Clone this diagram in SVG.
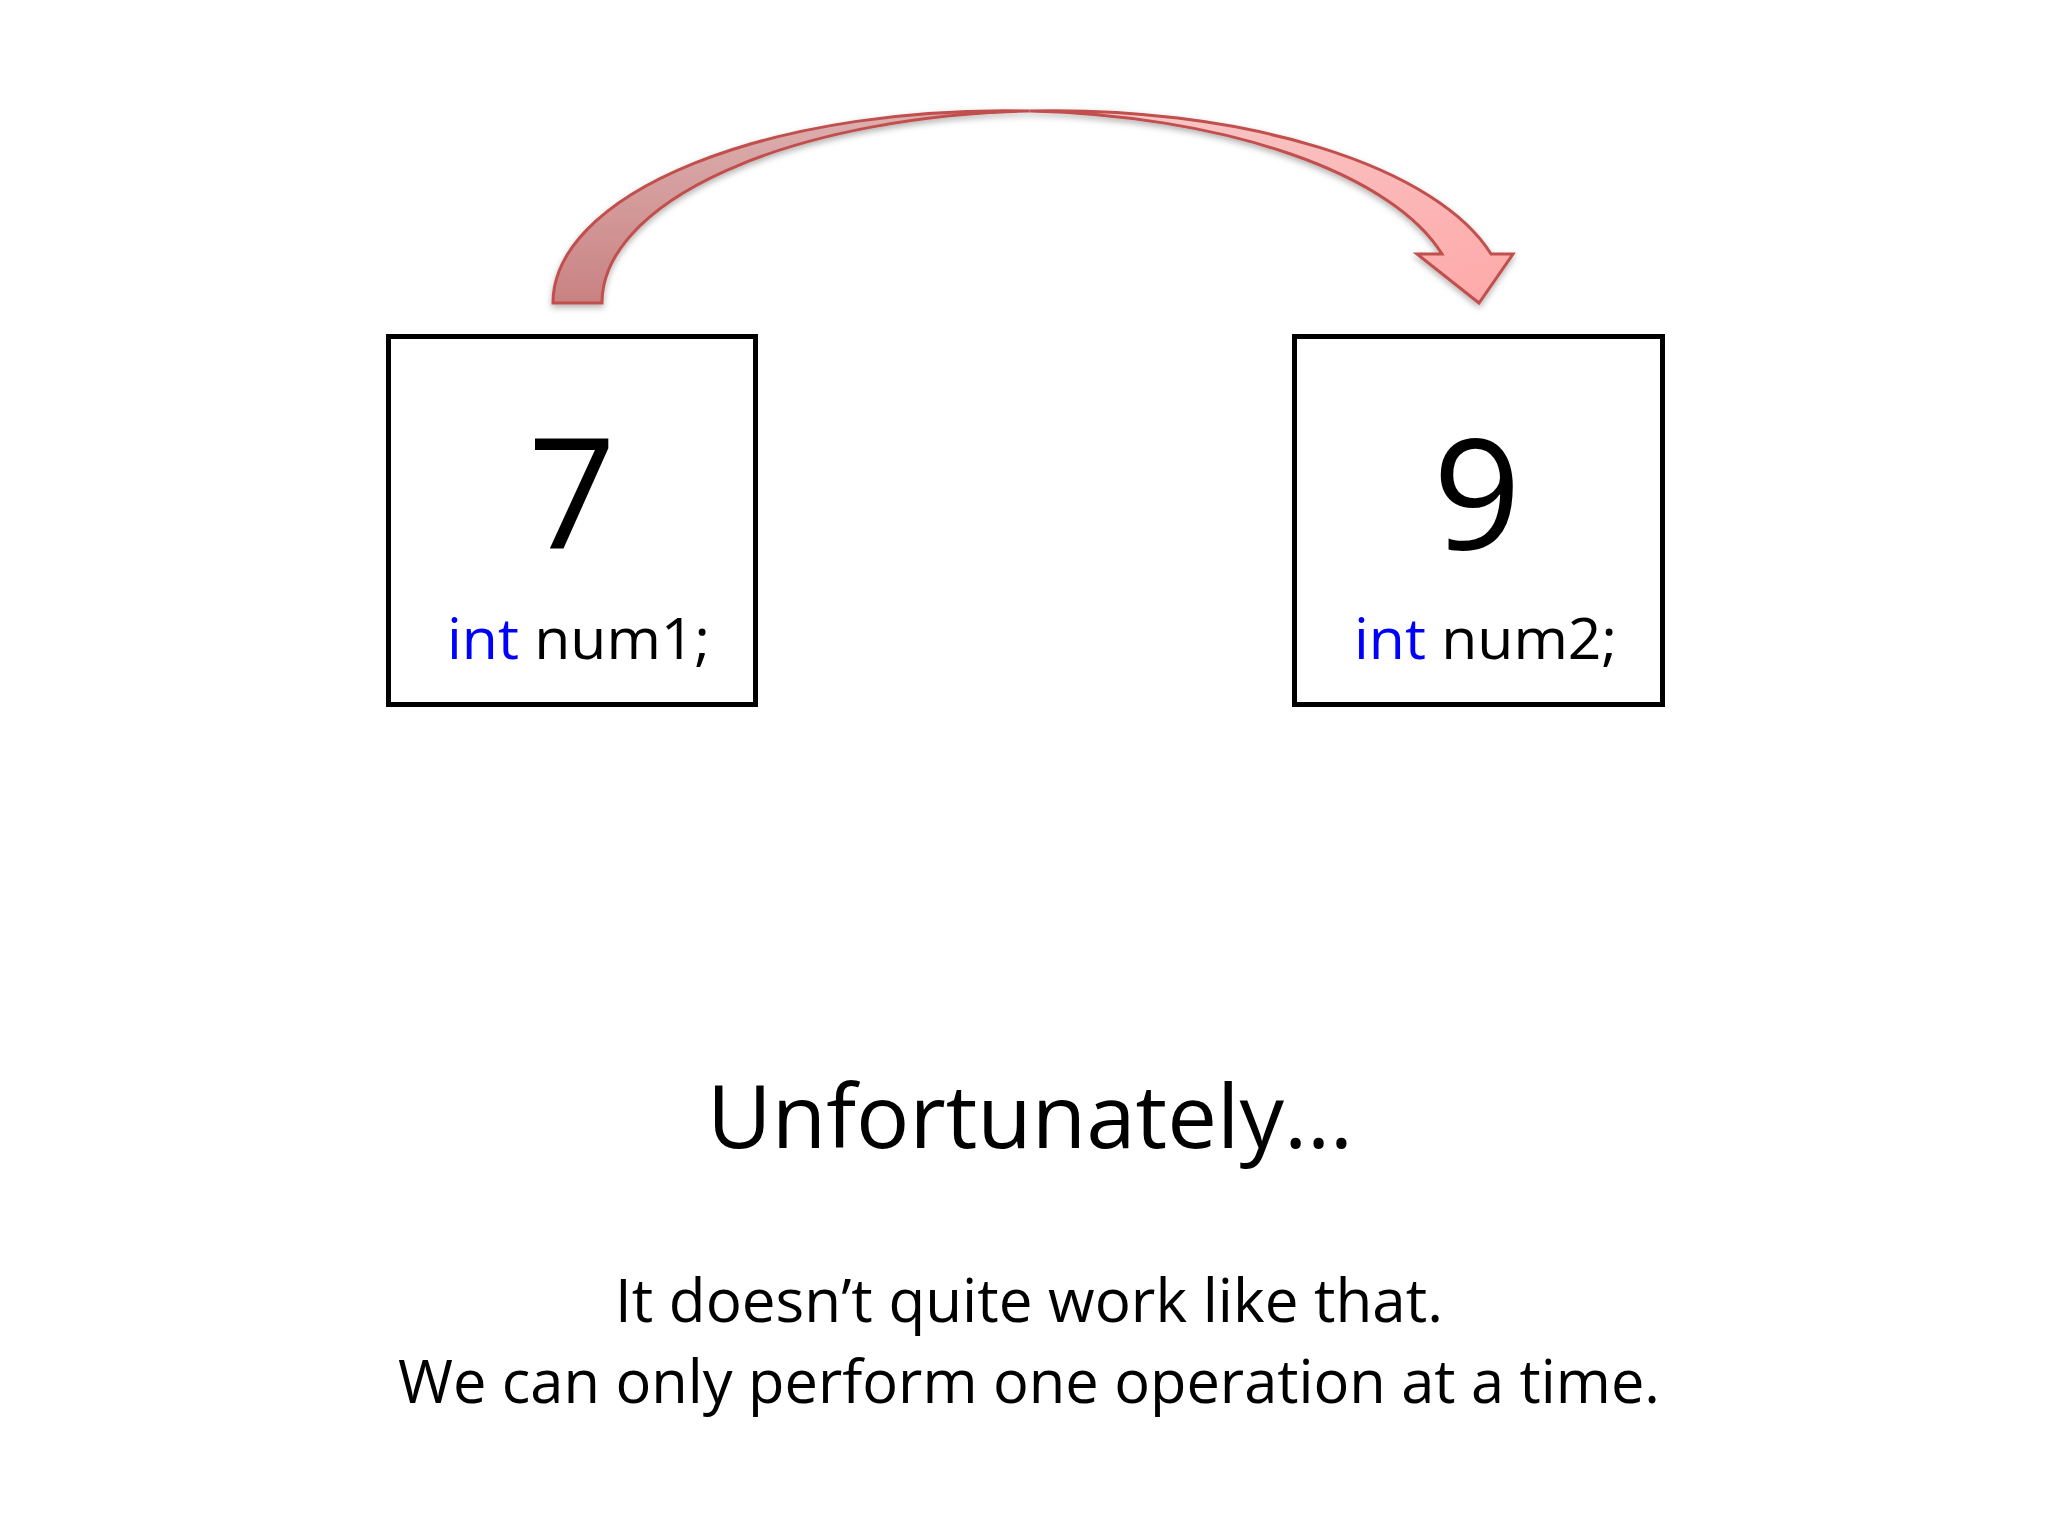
<svg xmlns="http://www.w3.org/2000/svg" width="2048" height="1536" viewBox="0 0 2048 1536">
  <defs>
    <linearGradient id="gLeft" x1="0" y1="0" x2="0" y2="1">
      <stop offset="0" stop-color="#DDB0B0"/>
      <stop offset="1" stop-color="#C98282"/>
    </linearGradient>
    <linearGradient id="gRight" x1="0" y1="0" x2="1" y2="1">
      <stop offset="0" stop-color="#F6CACA"/>
      <stop offset="1" stop-color="#FFA9A9"/>
    </linearGradient>
    <filter id="shadow" x="-10%" y="-10%" width="120%" height="130%">
      <feDropShadow dx="0" dy="3" stdDeviation="3" flood-color="#000" flood-opacity="0.3"/>
    </filter>
  </defs>
  <style>
    .box { fill: #FFFFFF; stroke: #000000; stroke-width: 5; }
    .big { font-family: "Open Sans", "Liberation Sans", sans-serif; font-size: 154px; fill: #000; text-anchor: middle; }
    .lbl { font-family: "Open Sans", "Liberation Sans", sans-serif; font-size: 57px; fill: #000; }
    .kw { fill: #0000FF; }
    .title { font-family: "Open Sans", "Liberation Sans", sans-serif; font-size: 88px; fill: #000; text-anchor: middle; }
    .body { font-family: "Open Sans", "Liberation Sans", sans-serif; font-size: 60px; fill: #000; text-anchor: middle; }
    .arrow { stroke: #C0504D; stroke-width: 3; stroke-linejoin: miter; }
  </style>
  <rect x="0" y="0" width="2048" height="1536" fill="#FFFFFF"/>

  <g id="connectors">
    <g id="curved-arrow" filter="url(#shadow)">
      <path class="arrow" fill="url(#gLeft)" d="M553,303 A452,192 0 0 1 1029.5,111 A452,192 0 0 0 602,303 Z"/>
      <path class="arrow" fill="url(#gRight)" d="M1029.5,111 A452,192 0 0 1 1491,254 L1513,254 L1479,303 L1417,254 L1442,254 A452,192 0 0 0 1029.5,111 Z"/>
    </g>
  </g>

  <g id="node-num1">
    <rect class="box" x="388.5" y="336.5" width="367" height="368"/>
    <text class="big" x="572" y="549">7</text>
    <text class="lbl" x="447" y="659" textLength="263" lengthAdjust="spacingAndGlyphs"><tspan class="kw">int</tspan> num1;</text>
  </g>

  <g id="node-num2">
    <rect class="box" x="1294.5" y="336.5" width="368" height="368"/>
    <text class="big" x="1477" y="549">9</text>
    <text class="lbl" x="1354" y="659" textLength="263" lengthAdjust="spacingAndGlyphs"><tspan class="kw">int</tspan> num2;</text>
  </g>

  <g id="caption">
    <text class="title" x="1030" y="1148" textLength="646" lengthAdjust="spacingAndGlyphs">Unfortunately…</text>
    <text class="body" x="1029" y="1322" textLength="828" lengthAdjust="spacingAndGlyphs">It doesn’t quite work like that.</text>
    <text class="body" x="1029" y="1403" textLength="1262" lengthAdjust="spacingAndGlyphs">We can only perform one operation at a time.</text>
  </g>
</svg>
